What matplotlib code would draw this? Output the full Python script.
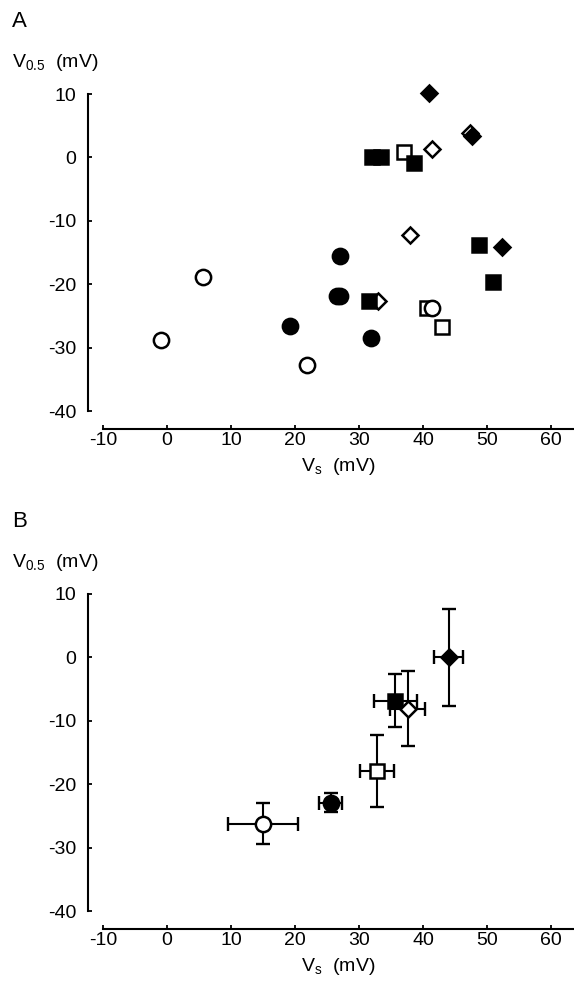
import matplotlib
matplotlib.use("Agg")
import matplotlib.pyplot as plt
import numpy as np

plt.rcParams['font.family'] = ['Liberation Sans', 'DejaVu Sans']
plt.rcParams['mathtext.default'] = 'regular'
plt.rcParams['axes.unicode_minus'] = False

# Panel A: individual cells (Vs, V0.5), grouped by symbol
a_open_circle_x = [-1.0, 5.7, 21.8, 41.4]
a_open_circle_y = [-28.8, -18.8, -32.8, -23.7]
a_fill_circle_x = [19.2, 26.6, 27.0, 27.1, 31.8]
a_fill_circle_y = [-26.6, -21.8, -21.8, -15.6, -28.5]
a_open_square_x = [37.0, 40.6, 43.0]
a_open_square_y = [0.8, -23.7, -26.7]
a_fill_square_x = [32.1, 33.5, 38.6, 31.6, 48.7, 51.0]
a_fill_square_y = [0.0, 0.0, -0.9, -22.7, -13.8, -19.7]
a_open_diamond_x = [41.4, 38.0, 33.0, 47.3]
a_open_diamond_y = [1.3, -12.2, -22.7, 3.8]
a_fill_diamond_x = [41.0, 47.6, 52.4]
a_fill_diamond_y = [10.2, 3.3, -14.1]

# Panel B: means +/- error, one per symbol
b_names = ['open_circle', 'fill_circle', 'open_square', 'fill_square', 'open_diamond', 'fill_diamond']
b_x = [15.0, 25.6, 32.8, 35.7, 37.6, 44.0]
b_y = [-26.2, -22.9, -17.9, -6.8, -8.1, 0.0]
b_xerr = [5.5, 1.8, 2.6, 3.3, 2.7, 2.3]
b_yerr = [3.2, 1.5, 5.7, 4.2, 5.9, 7.6]

xticks = [-10, 0, 10, 20, 30, 40, 50, 60]
yticks = [-40, -30, -20, -10, 0, 10]

styles = {
    'open_circle': dict(marker='o', ms=11, mfc='white'),
    'fill_circle': dict(marker='o', ms=11, mfc='black'),
    'open_square': dict(marker='s', ms=10, mfc='white'),
    'fill_square': dict(marker='s', ms=10, mfc='black'),
    'open_diamond': dict(marker='D', ms=8.5, mfc='white'),
    'fill_diamond': dict(marker='D', ms=8.5, mfc='black'),
}
# drawing order so overlaps look like the original
order_a = ['open_square', 'open_diamond', 'fill_square', 'fill_diamond', 'fill_circle', 'open_circle']
order_b = ['open_circle', 'fill_circle', 'open_square', 'fill_square', 'open_diamond', 'fill_diamond']

data_a = {
    'open_circle': (a_open_circle_x, a_open_circle_y),
    'fill_circle': (a_fill_circle_x, a_fill_circle_y),
    'open_square': (a_open_square_x, a_open_square_y),
    'fill_square': (a_fill_square_x, a_fill_square_y),
    'open_diamond': (a_open_diamond_x, a_open_diamond_y),
    'fill_diamond': (a_fill_diamond_x, a_fill_diamond_y),
}

W, H = 574, 982
fig = plt.figure(figsize=(W / 100, H / 100), dpi=100)


def make_axes(top_px):
    left, right = 103, 574
    bottom = top_px + 317
    ax = fig.add_axes([left / W, 1 - bottom / H, (right - left) / W, 317 / H])
    ax.set_xlim(-10, -10 + (right - left) / 6.4)
    ax.set_ylim(-40, 10)
    for s in ['top', 'right']:
        ax.spines[s].set_visible(False)
    ax.spines['left'].set_position(('outward', 11))
    ax.spines['bottom'].set_position(('outward', 13))
    ax.spines['left'].set_bounds(-40, 10)
    for s in ['left', 'bottom']:
        ax.spines[s].set_linewidth(1.5)
    ax.set_xticks(xticks)
    ax.set_yticks(yticks)
    ax.tick_params(direction='in', length=3, width=1.3, labelsize=14)
    ax.tick_params(axis='y', pad=8)
    ax.tick_params(axis='x', pad=2)
    ax.set_xlabel('V$_s$  (mV)', fontsize=14, labelpad=5)
    return ax


axA = make_axes(94)
for name in order_a:
    x, y = data_a[name]
    axA.plot(x, y, ls='none', mec='black', mew=1.8, clip_on=False, **styles[name])

axB = make_axes(594)
for name in order_b:
    i = b_names.index(name)
    axB.errorbar(b_x[i], b_y[i], xerr=b_xerr[i], yerr=b_yerr[i], fmt='none',
                 ecolor='black', elinewidth=1.5, capsize=5, capthick=1.7)
for name in order_b:
    i = b_names.index(name)
    axB.plot(b_x[i], b_y[i], ls='none', mec='black', mew=1.8, **styles[name])

for off, letter in [(0, 'A'), (500, 'B')]:
    fig.text(12 / W, 1 - (27 + off) / H, letter, fontsize=16, va='baseline')
    fig.text(12 / W, 1 - (67 + off) / H, 'V$_{0.5}$  (mV)', fontsize=14, va='baseline')

fig.savefig('out.png', dpi=100)
